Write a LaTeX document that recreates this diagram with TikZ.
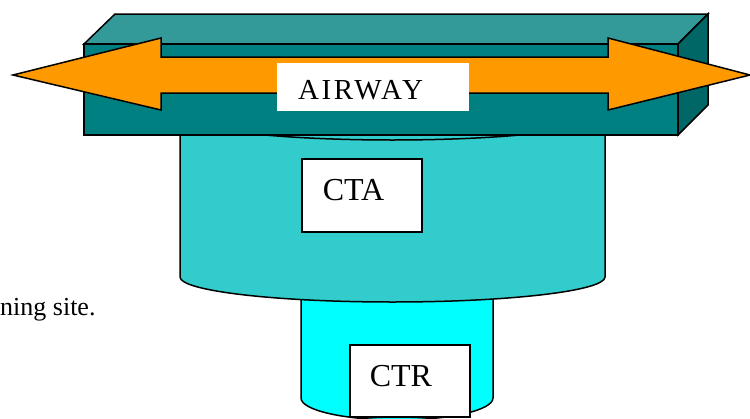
\documentclass[tikz,border=0pt]{standalone}
\usepackage{fontspec}
\setmainfont{Liberation Serif}
\newfontfamily\spacedserif[LetterSpace=9]{Liberation Serif}
\definecolor{boxtop}{HTML}{339999}
\definecolor{boxfront}{HTML}{008080}
\definecolor{boxside}{HTML}{006666}
\definecolor{ctafill}{HTML}{33CCCC}
\definecolor{ctrfill}{HTML}{00FFFF}
\definecolor{airorange}{HTML}{FF9900}
\tikzset{
  edge/.style={draw=black, line width=1.5pt, line join=miter},
  tag/.style={draw=black, line width=1.5pt, fill=white, inner ysep=0pt,
    align=left, font=\fontsize{32}{34}\selectfont, text height=21pt},
}
\begin{document}
\begin{tikzpicture}[x=1pt, y=-1pt]
\useasboundingbox (0,0) rectangle (750,418);
\clip (0,0) rectangle (750,418);

% lower cylinder (control zone)
\path[edge, fill=ctrfill] (301,260) -- (301,398)
  arc[start angle=180, end angle=360, x radius=96pt, y radius=22pt] -- (493,260);

% upper cylinder (control area)
\path[edge, fill=ctafill] (180,115) -- (180,277)
  arc[start angle=180, end angle=360, x radius=212.5pt, y radius=25pt] -- (605,115);
\path[edge, fill=ctafill] (392.5,115) ellipse [x radius=212.5pt, y radius=25pt];

% airway slab
\path[edge, fill=boxtop] (84,44) -- (115,14) -- (708,14) -- (678,44) -- cycle;
\path[edge, fill=boxside] (678,44) -- (708,14) -- (708,105) -- (678,135) -- cycle;
\path[edge, fill=boxfront] (84,44) rectangle (678,135);

% double-headed route arrow
\path[edge, fill=airorange] (13,75) -- (161,38) -- (161,57) -- (608,57) -- (608,38)
  -- (750,75) -- (608,110) -- (608,93) -- (161,93) -- (161,110) -- cycle;

% labels
\node[fill=white, anchor=west, minimum height=48pt, text width=150pt,
  inner xsep=21pt, inner ysep=0pt, align=left, text height=24pt, text depth=0pt,
  font=\spacedserif\fontsize{29}{31}\selectfont] (airway) at (277,87) {AIRWAY};
\node[tag, anchor=north west, minimum height=73pt, text width=78pt, inner xsep=21pt,
  text depth=11pt] (cta) at (301,158) {CTA};
\node[tag, anchor=north west, minimum height=72pt, text width=80pt, inner xsep=20pt,
  text depth=9pt] (ctr) at (349,344) {CTR};
\node[anchor=base west, inner sep=0pt, font=\fontsize{26}{28}\selectfont]
  (site) at (0,315) {ning site.};
\end{tikzpicture}
\end{document}
